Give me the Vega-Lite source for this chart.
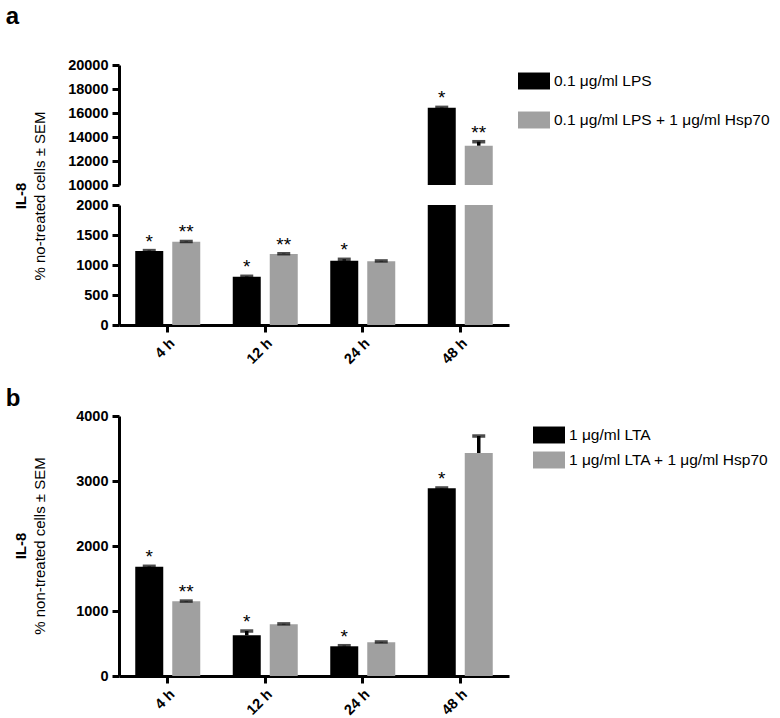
{
  "$schema": "https://vega.github.io/schema/vega-lite/v6.json",
  "background": "white",
  "padding": {"left": 5, "top": 5, "right": 5, "bottom": 3},
  "config": {
    "font": "Liberation Sans",
    "view": {"stroke": null},
    "axis": {
      "domainColor": "black", "domainWidth": 3, "tickColor": "black", "tickWidth": 3, "tickSize": 7,
      "labelFont": "Liberation Sans", "labelFontWeight": "bold", "labelFontSize": 14.5, "labelColor": "black",
      "grid": false, "labelPadding": 4, "labelOverlap": false, "labelBound": false, "labelFlush": false, "tickCount": 20
    },
    "legend": {
      "title": null, "labelFont": "Liberation Sans", "labelFontSize": 15.5, "labelColor": "black", "labelLimit": 400,
      "symbolType": "M-1,-0.53H1V0.53H-1Z", "symbolSize": 1024, "symbolStrokeWidth": 0, "labelOffset": 4
    }
  },
  "datasets": {
    "lps": [
      {"time": "4 h", "group": "0.1 μg/ml LPS", "v": 1233, "upper": 1240, "sig": "*"},
      {"time": "4 h", "group": "0.1 μg/ml LPS + 1 μg/ml Hsp70", "v": 1388, "upper": 1392, "sig": "**"},
      {"time": "12 h", "group": "0.1 μg/ml LPS", "v": 805, "upper": 812, "sig": "*"},
      {"time": "12 h", "group": "0.1 μg/ml LPS + 1 μg/ml Hsp70", "v": 1183, "upper": 1188, "sig": "**"},
      {"time": "24 h", "group": "0.1 μg/ml LPS", "v": 1072, "upper": 1095, "sig": "*"},
      {"time": "24 h", "group": "0.1 μg/ml LPS + 1 μg/ml Hsp70", "v": 1062, "upper": 1068, "sig": ""},
      {"time": "48 h", "group": "0.1 μg/ml LPS", "v": 16442, "upper": 16470, "sig": "*"},
      {"time": "48 h", "group": "0.1 μg/ml LPS + 1 μg/ml Hsp70", "v": 13275, "upper": 13608, "sig": "**"}
    ],
    "lta": [
      {"time": "4 h", "group": "1 μg/ml LTA", "v": 1682, "upper": 1688, "sig": "*"},
      {"time": "4 h", "group": "1 μg/ml LTA + 1 μg/ml Hsp70", "v": 1149, "upper": 1153, "sig": "**"},
      {"time": "12 h", "group": "1 μg/ml LTA", "v": 626, "upper": 692, "sig": "*"},
      {"time": "12 h", "group": "1 μg/ml LTA + 1 μg/ml Hsp70", "v": 795, "upper": 802, "sig": ""},
      {"time": "24 h", "group": "1 μg/ml LTA", "v": 457, "upper": 466, "sig": "*"},
      {"time": "24 h", "group": "1 μg/ml LTA + 1 μg/ml Hsp70", "v": 518, "upper": 524, "sig": ""},
      {"time": "48 h", "group": "1 μg/ml LTA", "v": 2887, "upper": 2893, "sig": "*"},
      {"time": "48 h", "group": "1 μg/ml LTA + 1 μg/ml Hsp70", "v": 3431, "upper": 3692, "sig": ""}
    ]
  },
  "vconcat": [
    {
      "title": {"text": "a", "anchor": "start", "frame": "bounds", "fontSize": 24, "fontWeight": "bold", "font": "Liberation Sans", "color": "black", "offset": 28, "dx": -8},
      "vconcat": [
        {
          "bounds": "flush",
          "spacing": 20,
          "vconcat": [
            {
              "width": 390, "height": 120,
              "data": {"name": "lps"},
              "encoding": {
                "x": {"field": "time", "type": "nominal", "sort": ["4 h", "12 h", "24 h", "48 h"], "scale": {"type": "band", "paddingInner": 0, "paddingOuter": 0}, "axis": null}
              },
              "layer": [
                {
                  "transform": [{"filter": {"field": "group", "equal": "0.1 μg/ml LPS"}}],
                  "mark": {"type": "bar", "clip": true, "width": 28, "xOffset": -18.5},
                  "encoding": {
                    "y": {"field": "v", "type": "quantitative", "title": null, "scale": {"domain": [10000, 20000], "nice": false, "zero": false},
                      "axis": {"values": [10000, 12000, 14000, 16000, 18000, 20000], "format": "d", "tickCount": 20, "labelOverlap": false}},
                    "color": {"field": "group", "type": "nominal", "scale": {"domain": ["0.1 μg/ml LPS", "0.1 μg/ml LPS + 1 μg/ml Hsp70"], "range": ["#000000", "#a0a0a0"]},
                      "legend": {"orient": "right", "offset": 9, "rowPadding": 14}}
                  }
                },
                {
                  "transform": [{"filter": {"field": "group", "equal": "0.1 μg/ml LPS + 1 μg/ml Hsp70"}}],
                  "mark": {"type": "bar", "clip": true, "width": 28, "xOffset": 18.5},
                  "encoding": {
                    "y": {"field": "v", "type": "quantitative", "title": null, "scale": {"domain": [10000, 20000], "nice": false, "zero": false},
                      "axis": {"values": [10000, 12000, 14000, 16000, 18000, 20000], "format": "d", "tickCount": 20, "labelOverlap": false}},
                    "color": {"field": "group", "type": "nominal", "scale": {"domain": ["0.1 μg/ml LPS", "0.1 μg/ml LPS + 1 μg/ml Hsp70"], "range": ["#000000", "#a0a0a0"]},
                      "legend": {"orient": "right", "offset": 9, "rowPadding": 14}}
                  }
                },
                {
                  "transform": [{"filter": {"field": "group", "equal": "0.1 μg/ml LPS"}}],
                  "mark": {"type": "rule", "clip": true, "strokeWidth": 3.5, "color": "black", "xOffset": -18.5},
                  "encoding": {"y": {"field": "v", "type": "quantitative", "title": null, "scale": {"domain": [10000, 20000], "nice": false, "zero": false}}, "y2": {"field": "upper"}}
                },
                {
                  "transform": [{"filter": {"field": "group", "equal": "0.1 μg/ml LPS + 1 μg/ml Hsp70"}}],
                  "mark": {"type": "rule", "clip": true, "strokeWidth": 3.5, "color": "black", "xOffset": 18.5},
                  "encoding": {"y": {"field": "v", "type": "quantitative", "title": null, "scale": {"domain": [10000, 20000], "nice": false, "zero": false}}, "y2": {"field": "upper"}}
                },
                {
                  "transform": [{"filter": {"field": "group", "equal": "0.1 μg/ml LPS"}}],
                  "mark": {"type": "tick", "clip": true, "thickness": 3.5, "size": 13, "color": "black", "xOffset": -18.5},
                  "encoding": {"y": {"field": "upper", "type": "quantitative", "title": null, "scale": {"domain": [10000, 20000], "nice": false, "zero": false}}}
                },
                {
                  "transform": [{"filter": {"field": "group", "equal": "0.1 μg/ml LPS + 1 μg/ml Hsp70"}}],
                  "mark": {"type": "tick", "clip": true, "thickness": 3.5, "size": 13, "color": "black", "xOffset": 18.5},
                  "encoding": {"y": {"field": "upper", "type": "quantitative", "title": null, "scale": {"domain": [10000, 20000], "nice": false, "zero": false}}}
                },
                {
                  "transform": [{"filter": {"field": "group", "equal": "0.1 μg/ml LPS"}}],
                  "mark": {"type": "text", "clip": true, "fontSize": 19, "color": "black", "baseline": "alphabetic", "align": "center", "dy": -3, "xOffset": -18.5},
                  "encoding": {"y": {"field": "upper", "type": "quantitative", "title": null, "scale": {"domain": [10000, 20000], "nice": false, "zero": false}}, "text": {"field": "sig"}}
                },
                {
                  "transform": [{"filter": {"field": "group", "equal": "0.1 μg/ml LPS + 1 μg/ml Hsp70"}}],
                  "mark": {"type": "text", "clip": true, "fontSize": 19, "color": "black", "baseline": "alphabetic", "align": "center", "dy": -3, "xOffset": 18.5},
                  "encoding": {"y": {"field": "upper", "type": "quantitative", "title": null, "scale": {"domain": [10000, 20000], "nice": false, "zero": false}}, "text": {"field": "sig"}}
                }
              ]
            },
            {
              "width": 390, "height": 120,
              "title": {"text": "IL-8", "subtitle": "% no-treated cells ± SEM", "orient": "left", "anchor": "middle", "frame": "group",
                "font": "Liberation Sans", "fontSize": 15, "fontWeight": "bold", "color": "black",
                "subtitleFont": "Liberation Sans", "subtitleFontSize": 15, "subtitleColor": "black", "subtitlePadding": 4, "offset": 28, "dx": 69},
              "data": {"name": "lps"},
              "encoding": {
                "x": {"field": "time", "type": "nominal", "sort": ["4 h", "12 h", "24 h", "48 h"], "scale": {"type": "band", "paddingInner": 0, "paddingOuter": 0}, "title": null, "axis": {"labelAngle": -45}}
              },
              "layer": [
                {
                  "transform": [{"filter": {"field": "group", "equal": "0.1 μg/ml LPS"}}],
                  "mark": {"type": "bar", "clip": true, "width": 28, "xOffset": -18.5},
                  "encoding": {
                    "y": {"field": "v", "type": "quantitative", "title": null, "scale": {"domain": [0, 2000], "nice": false},
                      "axis": {"values": [0, 500, 1000, 1500, 2000], "format": "d", "tickCount": 20, "labelOverlap": false}},
                    "color": {"field": "group", "type": "nominal", "scale": {"domain": ["0.1 μg/ml LPS", "0.1 μg/ml LPS + 1 μg/ml Hsp70"], "range": ["#000000", "#a0a0a0"]}, "legend": null}
                  }
                },
                {
                  "transform": [{"filter": {"field": "group", "equal": "0.1 μg/ml LPS + 1 μg/ml Hsp70"}}],
                  "mark": {"type": "bar", "clip": true, "width": 28, "xOffset": 18.5},
                  "encoding": {
                    "y": {"field": "v", "type": "quantitative", "title": null, "scale": {"domain": [0, 2000], "nice": false},
                      "axis": {"values": [0, 500, 1000, 1500, 2000], "format": "d", "tickCount": 20, "labelOverlap": false}},
                    "color": {"field": "group", "type": "nominal", "scale": {"domain": ["0.1 μg/ml LPS", "0.1 μg/ml LPS + 1 μg/ml Hsp70"], "range": ["#000000", "#a0a0a0"]}, "legend": null}
                  }
                },
                {
                  "transform": [{"filter": {"field": "group", "equal": "0.1 μg/ml LPS"}}],
                  "mark": {"type": "rule", "clip": true, "strokeWidth": 3.5, "color": "black", "xOffset": -18.5},
                  "encoding": {"y": {"field": "v", "type": "quantitative", "title": null, "scale": {"domain": [0, 2000], "nice": false}}, "y2": {"field": "upper"}}
                },
                {
                  "transform": [{"filter": {"field": "group", "equal": "0.1 μg/ml LPS + 1 μg/ml Hsp70"}}],
                  "mark": {"type": "rule", "clip": true, "strokeWidth": 3.5, "color": "black", "xOffset": 18.5},
                  "encoding": {"y": {"field": "v", "type": "quantitative", "title": null, "scale": {"domain": [0, 2000], "nice": false}}, "y2": {"field": "upper"}}
                },
                {
                  "transform": [{"filter": {"field": "group", "equal": "0.1 μg/ml LPS"}}],
                  "mark": {"type": "tick", "clip": true, "thickness": 3.5, "size": 13, "color": "black", "xOffset": -18.5},
                  "encoding": {"y": {"field": "upper", "type": "quantitative", "title": null, "scale": {"domain": [0, 2000], "nice": false}}}
                },
                {
                  "transform": [{"filter": {"field": "group", "equal": "0.1 μg/ml LPS + 1 μg/ml Hsp70"}}],
                  "mark": {"type": "tick", "clip": true, "thickness": 3.5, "size": 13, "color": "black", "xOffset": 18.5},
                  "encoding": {"y": {"field": "upper", "type": "quantitative", "title": null, "scale": {"domain": [0, 2000], "nice": false}}}
                },
                {
                  "transform": [{"filter": {"field": "group", "equal": "0.1 μg/ml LPS"}}],
                  "mark": {"type": "text", "clip": true, "fontSize": 19, "color": "black", "baseline": "alphabetic", "align": "center", "dy": -3, "xOffset": -18.5},
                  "encoding": {"y": {"field": "upper", "type": "quantitative", "title": null, "scale": {"domain": [0, 2000], "nice": false}}, "text": {"field": "sig"}}
                },
                {
                  "transform": [{"filter": {"field": "group", "equal": "0.1 μg/ml LPS + 1 μg/ml Hsp70"}}],
                  "mark": {"type": "text", "clip": true, "fontSize": 19, "color": "black", "baseline": "alphabetic", "align": "center", "dy": -3, "xOffset": 18.5},
                  "encoding": {"y": {"field": "upper", "type": "quantitative", "title": null, "scale": {"domain": [0, 2000], "nice": false}}, "text": {"field": "sig"}}
                }
              ]
            }
          ],
          "resolve": {"scale": {"color": "independent"}}
        }
      ]
    },
    {
      "title": {"text": "b", "anchor": "start", "frame": "bounds", "fontSize": 24, "fontWeight": "bold", "font": "Liberation Sans", "color": "black", "offset": 2, "dx": -8, "dy": 5},
      "vconcat": [
        {
          "title": {"text": "IL-8", "subtitle": "% non-treated cells ± SEM", "orient": "left", "anchor": "middle", "frame": "group",
            "font": "Liberation Sans", "fontSize": 15, "fontWeight": "bold", "color": "black",
            "subtitleFont": "Liberation Sans", "subtitleFontSize": 15, "subtitleColor": "black", "subtitlePadding": 4, "offset": 28},
          "width": 390, "height": 260,
          "data": {"name": "lta"},
          "encoding": {
            "x": {"field": "time", "type": "nominal", "sort": ["4 h", "12 h", "24 h", "48 h"], "scale": {"type": "band", "paddingInner": 0, "paddingOuter": 0}, "title": null, "axis": {"labelAngle": -45}}
          },
          "layer": [
            {
              "transform": [{"filter": {"field": "group", "equal": "1 μg/ml LTA"}}],
              "mark": {"type": "bar", "width": 28, "xOffset": -18.5},
              "encoding": {
                "y": {"field": "v", "type": "quantitative", "title": null, "scale": {"domain": [0, 4000], "nice": false},
                  "axis": {"values": [0, 1000, 2000, 3000, 4000], "format": "d", "tickCount": 20, "labelOverlap": false}},
                "color": {"field": "group", "type": "nominal", "scale": {"domain": ["1 μg/ml LTA", "1 μg/ml LTA + 1 μg/ml Hsp70"], "range": ["#000000", "#a0a0a0"]},
                  "legend": {"orient": "right", "offset": 21, "padding": 3, "rowPadding": 0}}
              }
            },
            {
              "transform": [{"filter": {"field": "group", "equal": "1 μg/ml LTA + 1 μg/ml Hsp70"}}],
              "mark": {"type": "bar", "width": 28, "xOffset": 18.5},
              "encoding": {
                "y": {"field": "v", "type": "quantitative", "title": null, "scale": {"domain": [0, 4000], "nice": false},
                  "axis": {"values": [0, 1000, 2000, 3000, 4000], "format": "d", "tickCount": 20, "labelOverlap": false}},
                "color": {"field": "group", "type": "nominal", "scale": {"domain": ["1 μg/ml LTA", "1 μg/ml LTA + 1 μg/ml Hsp70"], "range": ["#000000", "#a0a0a0"]},
                  "legend": {"orient": "right", "offset": 21, "padding": 3, "rowPadding": 0}}
              }
            },
            {
              "transform": [{"filter": {"field": "group", "equal": "1 μg/ml LTA"}}],
              "mark": {"type": "rule", "strokeWidth": 3.5, "color": "black", "xOffset": -18.5},
              "encoding": {"y": {"field": "v", "type": "quantitative", "title": null}, "y2": {"field": "upper"}}
            },
            {
              "transform": [{"filter": {"field": "group", "equal": "1 μg/ml LTA + 1 μg/ml Hsp70"}}],
              "mark": {"type": "rule", "strokeWidth": 3.5, "color": "black", "xOffset": 18.5},
              "encoding": {"y": {"field": "v", "type": "quantitative", "title": null}, "y2": {"field": "upper"}}
            },
            {
              "transform": [{"filter": {"field": "group", "equal": "1 μg/ml LTA"}}],
              "mark": {"type": "tick", "thickness": 3.5, "size": 13, "color": "black", "xOffset": -18.5},
              "encoding": {"y": {"field": "upper", "type": "quantitative", "title": null}}
            },
            {
              "transform": [{"filter": {"field": "group", "equal": "1 μg/ml LTA + 1 μg/ml Hsp70"}}],
              "mark": {"type": "tick", "thickness": 3.5, "size": 13, "color": "black", "xOffset": 18.5},
              "encoding": {"y": {"field": "upper", "type": "quantitative", "title": null}}
            },
            {
              "transform": [{"filter": {"field": "group", "equal": "1 μg/ml LTA"}}],
              "mark": {"type": "text", "fontSize": 19, "color": "black", "baseline": "alphabetic", "align": "center", "dy": -3, "xOffset": -18.5},
              "encoding": {"y": {"field": "upper", "type": "quantitative", "title": null}, "text": {"field": "sig"}}
            },
            {
              "transform": [{"filter": {"field": "group", "equal": "1 μg/ml LTA + 1 μg/ml Hsp70"}}],
              "mark": {"type": "text", "fontSize": 19, "color": "black", "baseline": "alphabetic", "align": "center", "dy": -3, "xOffset": 18.5},
              "encoding": {"y": {"field": "upper", "type": "quantitative", "title": null}, "text": {"field": "sig"}}
            }
          ]
        }
      ]
    }
  ],
  "spacing": 20,
  "resolve": {"scale": {"color": "independent"}}
}
